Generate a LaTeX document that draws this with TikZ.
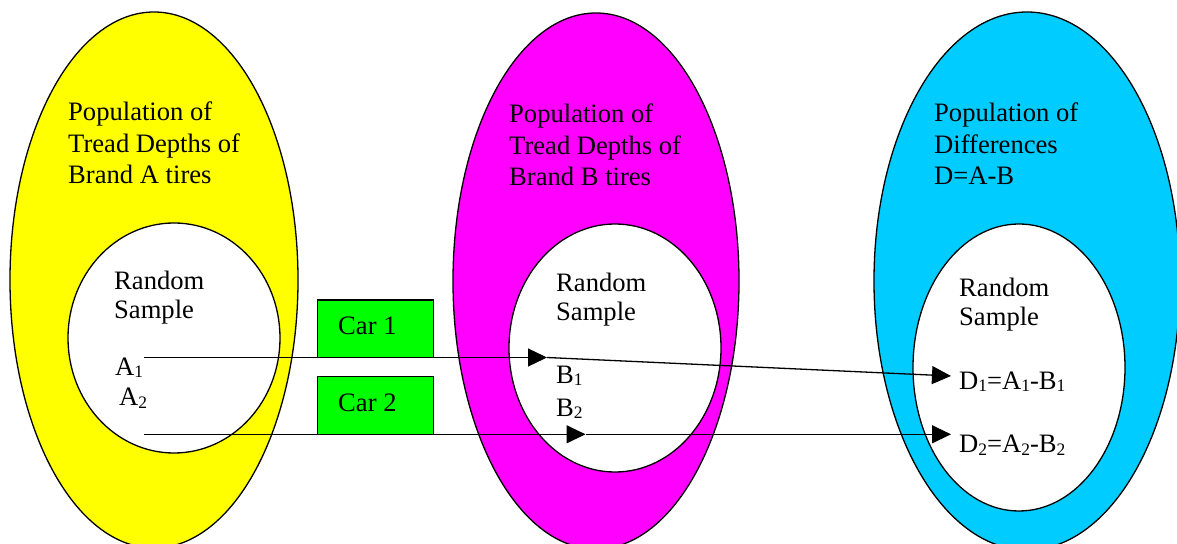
\documentclass[tikz,border=0pt]{standalone}
\usepackage{fontspec}
\setmainfont{Liberation Serif}
\usetikzlibrary{arrows.meta,shapes.geometric}
\definecolor{popyellow}{HTML}{FFFF00}
\definecolor{popmagenta}{HTML}{FF00FF}
\definecolor{popcyan}{HTML}{00CCFF}
\definecolor{cargreen}{HTML}{00FF00}
\newcommand{\subs}[1]{\raisebox{-2.5bp}{\fontsize{17.5bp}{17.5bp}\selectfont #1}}
\begin{document}
\begin{tikzpicture}[x=1bp,y=-1bp,
  txt/.style={font=\fontsize{26.6bp}{31bp}\selectfont, inner sep=0pt, anchor=base west},
  pop/.style={ellipse, draw=black, line width=1.3bp, inner sep=0pt},
  sample/.style={ellipse, draw=black, fill=white, line width=1.3bp, inner sep=0pt},
  carbox/.style={rectangle, draw=black, fill=cargreen, line width=1.5bp, inner sep=0pt},
  arr/.style={line width=1.3bp, -{Triangle[length=19bp,width=18bp]}}]
\useasboundingbox (0,0) rectangle (1177,544);

% populations
\node[pop, fill=popyellow, minimum width=288bp, minimum height=536bp] (popA) at (154,280) {};
\node[pop, fill=popmagenta, minimum width=286bp, minimum height=536bp] (popB) at (596,281) {};
\node[pop, fill=popcyan, minimum width=306bp, minimum height=538bp] (popD) at (1027,281) {};

% random samples
\node[sample, minimum width=212bp, minimum height=230bp] (sampA) at (174,338) {};
\node[sample, minimum width=212bp, minimum height=248bp] (sampB) at (615,348) {};
\node[sample, minimum width=212bp, minimum height=287bp] (sampD) at (1019,367.5) {};

% population labels
\node[txt] (tA1) at (68,121) {Population of};
\node[txt] (tA2) at (68,152.5) {Tread Depths of};
\node[txt] (tA3) at (68,184) {Brand A tires};
\node[txt] (tB1) at (509,123) {Population of};
\node[txt] (tB2) at (509,154.5) {Tread Depths of};
\node[txt] (tB3) at (509,186) {Brand B tires};
\node[txt] (tD1) at (934,122) {Population of};
\node[txt] (tD2) at (934,153.5) {Differences};
\node[txt] (tD3) at (934,185) {D=A-B};

% sample labels
\node[txt] (rA1) at (114,290) {Random};
\node[txt] (rA2) at (114,319) {Sample};
\node[txt] (rB1) at (556,292) {Random};
\node[txt] (rB2) at (556,321) {Sample};
\node[txt] (rD1) at (959,297) {Random};
\node[txt] (rD2) at (959,326) {Sample};

% sample members
\node[txt] (lA1) at (115,375.5) {A\subs{1}};
\node[txt] (lA2) at (119,405.5) {A\subs{2}};
\node[txt] (lB1) at (556,383.5) {B\subs{1}};
\node[txt] (lB2) at (556,416) {B\subs{2}};
\node[txt] (lD1) at (959,389) {D\subs{1}=A\subs{1}-B\subs{1}};
\node[txt] (lD2) at (959,452.5) {D\subs{2}=A\subs{2}-B\subs{2}};

% cars
\node[carbox, minimum width=116bp, minimum height=57.5bp] (car1) at (375.3,329) {};
\node[carbox, minimum width=116bp, minimum height=57.5bp] (car2) at (375.3,405.5) {};
\node[txt] (c1) at (338,335) {Car 1};
\node[txt] (c2) at (338,411.7) {Car 2};

% pairing connectors
\coordinate (a1) at (144,357.5);
\coordinate (b1) at (547,357.5);
\coordinate (d1) at (951,376);
\coordinate (a2) at (144,434.3);
\coordinate (b2) at (585.5,434.3);
\coordinate (d2) at (951,434.3);
\draw[arr] (a1) -- (b1);
\draw[arr] (b1) -- (d1);
\draw[arr] (a2) -- (b2);
\draw[arr] (b2) -- (d2);
\end{tikzpicture}
\end{document}
